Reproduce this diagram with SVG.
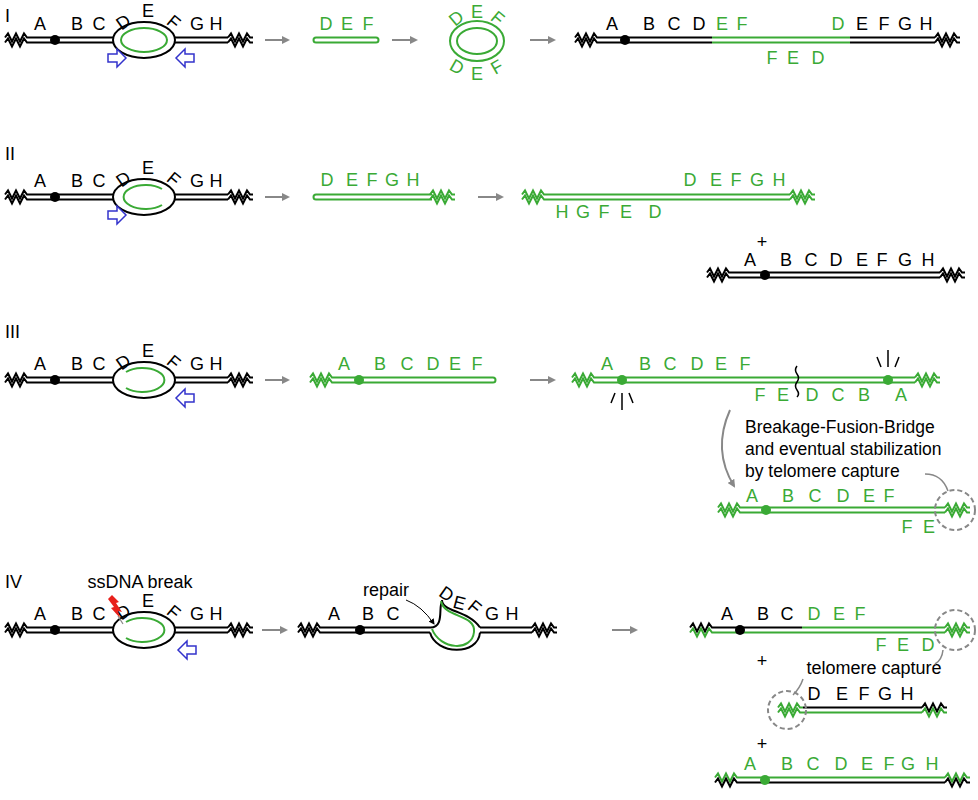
<svg xmlns="http://www.w3.org/2000/svg" xmlns:xlink="http://www.w3.org/1999/xlink" width="978" height="800" viewBox="0 0 978 800">
<style>
text{font-family:"Liberation Sans",Arial,sans-serif;font-size:18px;text-anchor:middle}
.tk{fill:#000}.tg{fill:#3aaa35}
.k{stroke:#000;stroke-width:2;fill:none}
.g{stroke:#3aaa35;stroke-width:2;fill:none}
.ar{stroke:#888;stroke-width:2;fill:none}
.blue{fill:#fff;stroke:#3333cc;stroke-width:1.5}
.dc{stroke:#888;stroke-width:2;fill:none;stroke-dasharray:5,3}
.lbl{text-anchor:start;font-size:18px}
.note{text-anchor:start;font-size:17.5px}
</style>
<defs>
<path id="z" d="M0,0 L3,-4 L7,4 L11,-4 L15,4 L19,-4 L22,0 L25,0"/>
<path id="barr" d="M-9,-4 L0,-4 L0,-9 L9,0 L0,9 L0,4 L-9,4 Z"/>
<marker id="ah" markerWidth="8" markerHeight="8" refX="6" refY="4" orient="auto" markerUnits="userSpaceOnUse"><path d="M0,0 L8,4 L0,8 Z" fill="#888"/></marker>
<marker id="ahk" markerWidth="6" markerHeight="6" refX="5" refY="3" orient="auto" markerUnits="userSpaceOnUse"><path d="M0,0 L6,3 L0,6 Z" fill="#000"/></marker>
<g id="base">
<use href="#z" x="5" y="-2.5" class="k"/><use href="#z" x="5" y="2.5" class="k"/>
<use href="#z" x="228" y="-2.5" class="k"/><use href="#z" x="228" y="2.5" class="k"/>
<path class="k" d="M30,-2.5 H228 M30,2.5 H228"/>
<ellipse cx="144" cy="0" rx="31" ry="18" fill="#fff" stroke="#000" stroke-width="2"/>
<circle cx="55" cy="0" r="5" fill="#000"/>
<text x="40" y="-10">A</text><text x="77" y="-10">B</text><text x="99" y="-10">C</text>
<text x="124" y="-12" transform="rotate(-35 124 -17)">D</text>
<text x="148" y="-23">E</text>
<text x="173" y="-12" transform="rotate(40 173 -17)">F</text>
<text x="197" y="-10">G</text><text x="216" y="-10">H</text>
</g>
</defs>

<text class="lbl" x="5" y="22">I</text>
<text class="lbl" x="5" y="160">II</text>
<text class="lbl" x="5" y="338">III</text>
<text class="lbl" x="5" y="588">IV</text>

<!-- Panel I -->
<g id="I-start" transform="translate(0,40)">
<use href="#base"/>
<ellipse cx="144" cy="0" rx="23" ry="12" class="g"/>
<use href="#barr" x="117" y="18" class="blue"/>
<use href="#barr" transform="translate(185 18) scale(-1 1)" class="blue"/>
</g>
<g id="I-excised">
<path class="g" d="M316,37.5 H376 A2.5,2.5 0 0 1 376,42.5 H316 A2.5,2.5 0 0 1 316,37.5 Z"/>
<text class="tg" x="326" y="30">D</text><text class="tg" x="347" y="30">E</text><text class="tg" x="368" y="30">F</text>
</g>
<g id="I-circle">
<ellipse cx="477" cy="41" rx="27" ry="20" class="g"/>
<ellipse cx="477" cy="41" rx="20" ry="13" class="g"/>
<text class="tg" x="457" y="24" transform="rotate(-40 457 19)">D</text>
<text class="tg" x="477" y="18">E</text>
<text class="tg" x="497" y="24" transform="rotate(40 497 19)">F</text>
<text class="tg" x="457" y="73" transform="rotate(30 457 67)">D</text>
<text class="tg" x="477" y="80">E</text>
<text class="tg" x="497" y="73" transform="rotate(-30 497 67)">F</text>
</g>
<g id="I-product">
<use href="#z" x="575" y="37.5" class="k"/><use href="#z" x="575" y="42.5" class="k"/>
<use href="#z" x="935" y="37.5" class="k"/><use href="#z" x="935" y="42.5" class="k"/>
<path class="k" d="M600,37.5 H712 M600,42.5 H712 M850,37.5 H935 M850,42.5 H935"/>
<path class="g" d="M712,37.5 H850 M712,42.5 H850"/>
<circle cx="625" cy="40" r="5" fill="#000"/>
<text x="612" y="30">A</text><text x="649" y="30">B</text><text x="674" y="30">C</text><text x="699" y="30">D</text>
<text class="tg" x="722" y="30">E</text><text class="tg" x="742" y="30">F</text><text class="tg" x="838" y="30">D</text>
<text x="862" y="30">E</text><text x="884" y="30">F</text><text x="905" y="30">G</text><text x="926" y="30">H</text>
<text class="tg" x="772" y="64">F</text><text class="tg" x="793" y="64">E</text><text class="tg" x="818" y="64">D</text>
</g>

<!-- Panel II -->
<g id="II-start" transform="translate(0,197)">
<use href="#base"/>
<path class="g" d="M162,-8 A22,12 0 1 0 162,8"/>
<use href="#barr" x="117" y="18" class="blue"/>
</g>
<g id="II-copy">
<path class="g" d="M432,194.5 H316 A2.5,2.5 0 0 0 316,199.5 H432"/>
<use href="#z" x="430" y="194.5" class="g"/><use href="#z" x="430" y="199.5" class="g"/>
<text class="tg" x="327" y="186">D</text><text class="tg" x="352" y="186">E</text><text class="tg" x="372" y="186">F</text><text class="tg" x="392" y="186">G</text><text class="tg" x="413" y="186">H</text>
</g>
<g id="II-dup">
<use href="#z" x="522" y="194.5" class="g"/><use href="#z" x="522" y="199.5" class="g"/>
<use href="#z" x="790" y="194.5" class="g"/><use href="#z" x="790" y="199.5" class="g"/>
<path class="g" d="M547,194.5 H790 M547,199.5 H790"/>
<text class="tg" x="690" y="186">D</text><text class="tg" x="716" y="186">E</text><text class="tg" x="736" y="186">F</text><text class="tg" x="757" y="186">G</text><text class="tg" x="779" y="186">H</text>
<text class="tg" x="562" y="218">H</text><text class="tg" x="583" y="218">G</text><text class="tg" x="604" y="218">F</text><text class="tg" x="626" y="218">E</text><text class="tg" x="655" y="218">D</text>
</g>
<text x="762" y="248">+</text>
<g id="II-orig">
<use href="#z" x="707" y="272.5" class="k"/><use href="#z" x="707" y="277.5" class="k"/>
<use href="#z" x="940" y="272.5" class="k"/><use href="#z" x="940" y="277.5" class="k"/>
<path class="k" d="M732,272.5 H940 M732,277.5 H940"/>
<circle cx="765" cy="275" r="5" fill="#000"/>
<text x="750" y="266">A</text><text x="786" y="266">B</text><text x="811" y="266">C</text><text x="836" y="266">D</text><text x="862" y="266">E</text><text x="882" y="266">F</text><text x="905" y="266">G</text><text x="928" y="266">H</text>
</g>

<!-- Panel III -->
<g id="III-start" transform="translate(0,380)">
<use href="#base"/>
<path class="g" d="M126,-8 A22,12 0 1 1 126,8"/>
<use href="#barr" transform="translate(185 18) scale(-1 1)" class="blue"/>
</g>
<g id="III-copy">
<use href="#z" x="310" y="377.5" class="g"/><use href="#z" x="310" y="382.5" class="g"/>
<path class="g" d="M335,377.5 H493 A2.5,2.5 0 0 1 493,382.5 H335"/>
<circle cx="359" cy="380" r="5" fill="#3aaa35"/>
<text class="tg" x="344" y="370">A</text><text class="tg" x="380" y="370">B</text><text class="tg" x="407" y="370">C</text><text class="tg" x="433" y="370">D</text><text class="tg" x="455" y="370">E</text><text class="tg" x="477" y="370">F</text>
</g>
<g id="III-dicentric">
<use href="#z" x="572" y="377.5" class="g"/><use href="#z" x="572" y="382.5" class="g"/>
<use href="#z" x="915" y="377.5" class="g"/><use href="#z" x="915" y="382.5" class="g"/>
<path class="g" d="M597,377.5 H915 M597,382.5 H915"/>
<circle cx="622" cy="380" r="5" fill="#3aaa35"/><circle cx="888" cy="380" r="5" fill="#3aaa35"/>
<text class="tg" x="607" y="370">A</text><text class="tg" x="645" y="370">B</text><text class="tg" x="670" y="370">C</text><text class="tg" x="697" y="370">D</text><text class="tg" x="721" y="370">E</text><text class="tg" x="745" y="370">F</text>
<text class="tg" x="760" y="401">F</text><text class="tg" x="783" y="401">E</text><text class="tg" x="812" y="401">D</text><text class="tg" x="838" y="401">C</text><text class="tg" x="864" y="401">B</text><text class="tg" x="901" y="401">A</text>
<path d="M797,366 q-3,4 0,8 q3,4 0,8 q-3,4 0,8 q3,4 0,7" stroke="#000" stroke-width="1.5" fill="none"/>
<path d="M615,393 L611,403 M622,393 V410 M629,393 L633,403 M881,367 L877,357 M888,367 V350 M895,367 L899,357" stroke="#000" stroke-width="1.5"/>
</g>
<path class="ar" d="M730,410 Q712,450 734,486" marker-end="url(#ah)"/>
<text class="note" x="745" y="433">Breakage-Fusion-Bridge</text>
<text class="note" x="745" y="455">and eventual stabilization</text>
<text class="note" x="745" y="477">by telomere capture</text>
<path d="M925,474 Q942,474 948,491" stroke="#888" stroke-width="1.5" fill="none"/>
<g id="III-stable">
<use href="#z" x="718" y="507.5" class="g"/><use href="#z" x="718" y="512.5" class="g"/>
<use href="#z" x="945" y="507.5" class="g"/><use href="#z" x="945" y="512.5" class="g"/>
<path class="g" d="M743,507.5 H945 M743,512.5 H945"/>
<circle cx="766" cy="510" r="5" fill="#3aaa35"/>
<text class="tg" x="752" y="502">A</text><text class="tg" x="788" y="502">B</text><text class="tg" x="815" y="502">C</text><text class="tg" x="843" y="502">D</text><text class="tg" x="869" y="502">E</text><text class="tg" x="889" y="502">F</text>
<text class="tg" x="907" y="533">F</text><text class="tg" x="929" y="533">E</text>
<circle cx="955" cy="510" r="20" class="dc"/>
</g>

<!-- Panel IV -->
<text x="140" y="588">ssDNA break</text>
<g id="IV-start" transform="translate(0,630)">
<use href="#base"/>
<path class="g" d="M126,-8 A22,12 0 1 1 126,8"/>
<use href="#barr" transform="translate(187 20) scale(-1 1)" class="blue"/>
<path d="M112,-35 L119,-28 L116,-27 L122,-18 L118,-19 L120,-12 L111,-22 L114,-23 L108,-31 Z" fill="#e8211c"/>
<path d="M118,-14 L123,-6" stroke="#888" stroke-width="1.2"/>
</g>
<g id="IV-repair">
<use href="#z" x="298" y="627.5" class="k"/><use href="#z" x="298" y="632.5" class="k"/>
<use href="#z" x="532" y="627.5" class="k"/><use href="#z" x="532" y="632.5" class="k"/>
<path class="k" d="M323,627.5 H430 M323,632.5 H430 M480,627.5 H532 M480,632.5 H532"/>
<path d="M430,627.5 C445,628 438,606 442,602 M442,600 C442,612 468,610 480,627.5" class="k"/>
<path d="M430,632.5 C436,655 478,656 480,632.5" class="k" fill="#fff"/>
<path class="g" d="M432,629 C440,650 472,652 474,632 C476,614 444,618 441,601"/>
<circle cx="360" cy="630" r="5" fill="#000"/>
<text x="334" y="620">A</text><text x="368" y="620">B</text><text x="393" y="620">C</text>
<text x="446" y="600" transform="rotate(35 446 595)">D</text>
<text x="459" y="609" transform="rotate(15 459 604)">E</text>
<text x="474" y="613" transform="rotate(40 474 608)">F</text>
<text x="492" y="620">G</text><text x="512" y="620">H</text>
<text x="386" y="596">repair</text>
<path d="M406,600 Q422,606 434,624" stroke="#000" stroke-width="1" fill="none" marker-end="url(#ahk)"/>
</g>
<g id="IV-prod1">
<use href="#z" x="690" y="627.5" class="k"/><use href="#z" x="690" y="632.5" class="g"/>
<use href="#z" x="945" y="627.5" class="g"/><use href="#z" x="945" y="632.5" class="g"/>
<path class="k" d="M715,627.5 H802"/>
<path class="g" d="M802,627.5 H945 M715,632.5 H945"/>
<circle cx="740" cy="630" r="5" fill="#000"/>
<text x="727" y="620">A</text><text x="763" y="620">B</text><text x="787" y="620">C</text>
<text class="tg" x="814" y="620">D</text><text class="tg" x="839" y="620">E</text><text class="tg" x="860" y="620">F</text>
<text class="tg" x="881" y="651">F</text><text class="tg" x="903" y="651">E</text><text class="tg" x="928" y="651">D</text>
<circle cx="955" cy="630" r="20" class="dc"/>
</g>
<text x="762" y="667">+</text>
<text x="874" y="674">telomere capture</text>
<path d="M943,650 Q942,660 935,664" stroke="#888" stroke-width="1.5" fill="none"/>
<path d="M803,679 Q800,688 793,695" stroke="#888" stroke-width="1.5" fill="none"/>
<g id="IV-prod2">
<use href="#z" x="778" y="707.5" class="g"/><use href="#z" x="778" y="712.5" class="g"/>
<use href="#z" x="922" y="707.5" class="k"/><use href="#z" x="922" y="712.5" class="g"/>
<path class="k" d="M803,707.5 H922"/>
<path class="g" d="M803,712.5 H922"/>
<text x="814" y="700">D</text><text x="842" y="700">E</text><text x="864" y="700">F</text><text x="885" y="700">G</text><text x="907" y="700">H</text>
<circle cx="787" cy="710" r="19" class="dc"/>
</g>
<text x="762" y="750">+</text>
<g id="IV-prod3">
<use href="#z" x="715" y="777.5" class="g"/><use href="#z" x="715" y="782.5" class="k"/>
<use href="#z" x="945" y="777.5" class="g"/><use href="#z" x="945" y="782.5" class="k"/>
<path class="g" d="M740,777.5 H945"/>
<path class="k" d="M740,782.5 H945"/>
<circle cx="765" cy="780" r="5" fill="#3aaa35"/>
<text class="tg" x="750" y="770">A</text><text class="tg" x="787" y="770">B</text><text class="tg" x="813" y="770">C</text><text class="tg" x="841" y="770">D</text><text class="tg" x="867" y="770">E</text><text class="tg" x="889" y="770">F</text><text class="tg" x="908" y="770">G</text><text class="tg" x="932" y="770">H</text>
</g>

<g id="connectors">
<path class="ar" d="M265,40 H288" marker-end="url(#ah)"/>
<path class="ar" d="M392,40 H416" marker-end="url(#ah)"/>
<path class="ar" d="M530,40 H554" marker-end="url(#ah)"/>
<path class="ar" d="M265,197 H288" marker-end="url(#ah)"/>
<path class="ar" d="M478,197 H502" marker-end="url(#ah)"/>
<path class="ar" d="M265,380 H288" marker-end="url(#ah)"/>
<path class="ar" d="M530,380 H554" marker-end="url(#ah)"/>
<path class="ar" d="M262,630 H286" marker-end="url(#ah)"/>
<path class="ar" d="M612,630 H636" marker-end="url(#ah)"/>
</g>
</svg>
